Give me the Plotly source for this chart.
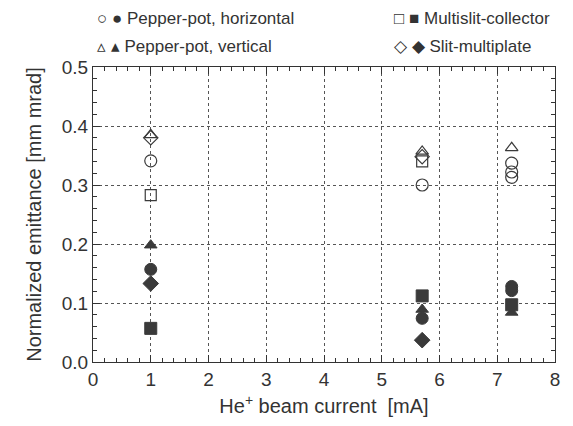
import plotly.graph_objects as go

# x positions (He+ beam current, mA)
x_hor_open = [1.0, 5.7, 7.25, 7.25, 7.25]
y_hor_open = [0.341, 0.300, 0.337, 0.322, 0.313]
x_hor_fill = [1.0, 5.7, 7.25, 7.25]
y_hor_fill = [0.157, 0.074, 0.128, 0.121]

x_ver_open = [1.0, 5.7, 7.25]
y_ver_open = [0.385, 0.357, 0.363]
x_ver_fill = [1.0, 5.7, 7.25]
y_ver_fill = [0.198, 0.089, 0.084]

x_msc_open = [1.0, 5.7]
y_msc_open = [0.283, 0.340]
x_msc_fill = [1.0, 5.7, 7.25]
y_msc_fill = [0.057, 0.112, 0.097]

x_smp_open = [1.0, 5.7]
y_smp_open = [0.380, 0.348]
x_smp_fill = [1.0, 5.7]
y_smp_fill = [0.133, 0.037]

legend_labels = ["Pepper-pot, horizontal", "Pepper-pot, vertical",
                 "Multislit-collector", "Slit-multiplate"]

DARK = "#3a3a3a"
FONT = "Liberation Sans, Arial, sans-serif"

fig = go.Figure()

def add(xs, ys, sym, filled, size=11):
    if filled:
        m = dict(symbol=sym, size=size, color=DARK, line=dict(color=DARK, width=1))
    else:
        m = dict(symbol=sym + "-open", size=size, color=DARK, line=dict(color=DARK, width=1.2))
    fig.add_trace(go.Scatter(x=xs, y=ys, mode="markers", marker=m, showlegend=False))

add(x_hor_open, y_hor_open, "circle", False, 12)
add(x_ver_open, y_ver_open, "triangle-up", False, 11)
add(x_msc_open, y_msc_open, "square", False, 11)
add(x_smp_open, y_smp_open, "diamond", False, 11)
add(x_ver_fill, y_ver_fill, "triangle-up", True, 11)
add(x_msc_fill, y_msc_fill, "square", True, 12)
add(x_hor_fill, y_hor_fill, "circle", True, 12)
add(x_smp_fill, y_smp_fill, "diamond", True, 12)

# page has an 8px body margin, so the figure is laid out 8px smaller
OFF = 8
W, H = 573 - OFF, 426 - OFF
L, R, T, B = 93 - OFF, 18, 67 - OFF, 64
pw, ph = W - L - R, H - T - B

def px(xp):
    return (xp - OFF - L) / pw

def py(yp):
    return (H - B - (yp - OFF)) / ph

legend_syms = ["○ ●", "▵ ▴", "□ ■", "◇ ◆"]
legend_pos = [(95, 19), (95, 46), (392, 19), (392, 46)]
annotations = []
for sym, lab, (lx, ly) in zip(legend_syms, legend_labels, legend_pos):
    annotations.append(dict(x=px(lx), y=py(ly), xref="paper", yref="paper",
                            text=sym + " " + lab, showarrow=False,
                            xanchor="left", yanchor="middle",
                            font=dict(family=FONT, size=17, color="#333")))

axis_common = dict(
    showline=True, linecolor="#333", linewidth=1, mirror="allticks",
    ticks="inside", ticklen=7, tickcolor="#333",
    showgrid=True, gridcolor="#555", griddash="3px,3px", gridwidth=1,
    zeroline=False,
    tickfont=dict(family=FONT, size=19, color="#333"),
)

fig.update_layout(
    width=W, height=H,
    margin=dict(l=L, r=R, t=T, b=B),
    paper_bgcolor="white", plot_bgcolor="white",
    annotations=annotations,
    xaxis=dict(range=[0, 8], dtick=1, tick0=0,
               minor=dict(dtick=0.2, ticks="inside", ticklen=4, tickcolor="#333", showgrid=False),
               title=dict(text="He<sup>+</sup> beam current  [mA]",
                          font=dict(family=FONT, size=20, color="#333"), standoff=10),
               **axis_common),
    yaxis=dict(range=[0, 0.5], dtick=0.1, tick0=0, tickformat=".1f",
               minor=dict(dtick=0.02, ticks="inside", ticklen=4, tickcolor="#333", showgrid=False),
               title=dict(text="Normalized emittance [mm mrad]",
                          font=dict(family=FONT, size=20, color="#333"), standoff=14),
               **axis_common),
)

fig.write_html("out.html")
